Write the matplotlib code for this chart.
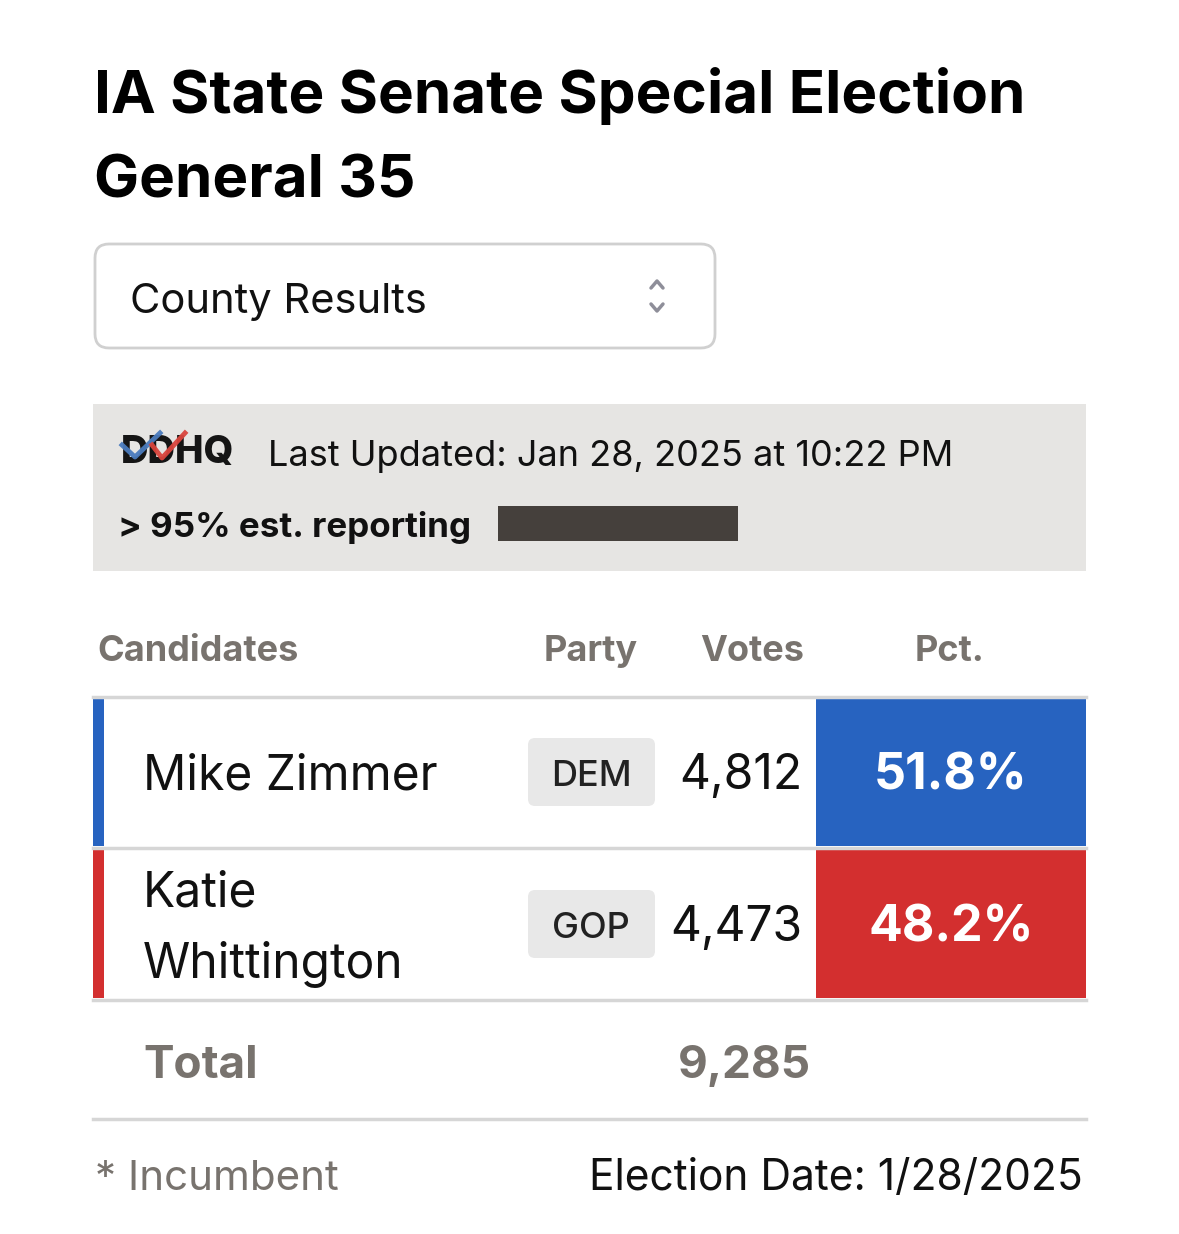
import matplotlib.pyplot as plt
from matplotlib.patches import FancyBboxPatch, Rectangle

plt.rcParams['font.family'] = ['Inter', 'DejaVu Sans']

title_lines = ["IA State Senate Special Election", "General 35"]
dropdown_label = "County Results"
updated = "Last Updated: Jan 28, 2025 at 10:22 PM"
reporting = "> 95% est. reporting"
headers = ["Candidates", "Party", "Votes", "Pct."]
candidates = [["Mike Zimmer"], ["Katie", "Whittington"]]
parties = ["DEM", "GOP"]
votes = [4812, 4473]
pcts = [51.8, 48.2]
party_colors = ["#2763c0", "#d32f2f"]
total_votes = 9285
election_date = "1/28/2025"

W, H = 1179, 1234
fig = plt.figure(figsize=(W / 100, H / 100), dpi=100)
ax = fig.add_axes([0, 0, 1, 1])
ax.set_xlim(0, W)
ax.set_ylim(H, 0)
ax.axis("off")

grey_txt = "#78736e"
line_c = "#d6d6d6"

# title
ax.text(94, 113, title_lines[0], fontsize=43.3, fontweight="bold", va="baseline")
ax.text(94, 197, title_lines[1], fontsize=43.3, fontweight="bold", va="baseline")

# dropdown
ax.add_patch(FancyBboxPatch((95, 244), 620, 104, boxstyle="round,pad=0,rounding_size=14",
                            fc="white", ec="#d0d0d0", lw=2))
ax.text(130, 313, dropdown_label, fontsize=30, va="baseline", color="#111111")
ax.plot([651, 657, 663], [288, 281, 288], color="#8e8e99", lw=2.5, solid_capstyle="round")
ax.plot([651, 657, 663], [304, 311, 304], color="#8e8e99", lw=2.5, solid_capstyle="round")

# status panel
ax.add_patch(Rectangle((93, 404), 993, 167, fc="#e6e5e3", ec="none"))
ax.text(121, 463, "DDHQ", fontsize=27.5, fontweight="heavy", va="baseline", color="#151515")
ax.plot([122, 135, 160], [445, 457, 433], color="#4a7bbd", lw=3.5, alpha=0.95, zorder=5)
ax.plot([152, 162, 185], [445, 458, 433], color="#d9453d", lw=3.5, alpha=0.95, zorder=5)
ax.text(268, 466, updated, fontsize=26, va="baseline", color="#111111")
ax.text(118, 537, reporting, fontsize=25.2, fontweight="bold", va="baseline", color="#111111")
ax.add_patch(Rectangle((498, 506), 240, 35, fc="#45403c", ec="none"))

# header row
ax.text(97, 661, headers[0], fontsize=26, fontweight="bold", va="baseline", color=grey_txt)
ax.text(591, 661, headers[1], fontsize=26, fontweight="bold", va="baseline", ha="center", color=grey_txt)
ax.text(752, 661, headers[2], fontsize=26, fontweight="bold", va="baseline", ha="center", color=grey_txt)
ax.text(950, 661, headers[3], fontsize=26, fontweight="bold", va="baseline", ha="center", color=grey_txt)

row_top = [698, 850]
row_h = 148
ax.plot([93, 1086], [696.5, 696.5], color=line_c, lw=2.5)
for i in range(len(candidates)):
    y0 = row_top[i]
    yc = y0 + row_h / 2
    ax.add_patch(Rectangle((93, y0), 11, row_h, fc=party_colors[i], ec="none"))
    ax.add_patch(Rectangle((816, y0), 270, row_h, fc=party_colors[i], ec="none"))
    ax.plot([93, 1086], [y0 + row_h + 1.5, y0 + row_h + 1.5], color=line_c, lw=2.5)
    n = len(candidates[i])
    first_base = yc + 18 - (n - 1) * 35.5
    for k, part in enumerate(candidates[i]):
        ax.text(143, first_base + k * 71, part, fontsize=34.5, va="baseline", color="#111111")
    ax.add_patch(FancyBboxPatch((528, yc - 34), 127, 68, boxstyle="round,pad=0,rounding_size=7",
                                fc="#e8e8e8", ec="none"))
    ax.text(591, yc + 14, parties[i], fontsize=26, fontweight="medium", va="baseline", ha="center", color="#222222")
    ax.text(802, yc + 17, f"{votes[i]:,}", fontsize=34.5, va="baseline", ha="right", color="#111111")
    ax.text(951, yc + 17, f"{pcts[i]}%", fontsize=36, fontweight="bold", va="baseline", ha="center", color="white")

# total
ax.text(143, 1078, "Total", fontsize=33, fontweight="bold", va="baseline", color=grey_txt)
ax.text(811, 1078, f"{total_votes:,}", fontsize=33, fontweight="bold", va="baseline", ha="right", color=grey_txt)
ax.plot([93, 1086], [1119, 1119], color=line_c, lw=2.5)

# footer
ax.text(95, 1190, "* Incumbent", fontsize=30.3, va="baseline", color=grey_txt)
ax.text(1083, 1190, f"Election Date: {election_date}", fontsize=30.6, va="baseline", ha="right", color="#111111")

fig.savefig("out.png", dpi=100, facecolor="white")
